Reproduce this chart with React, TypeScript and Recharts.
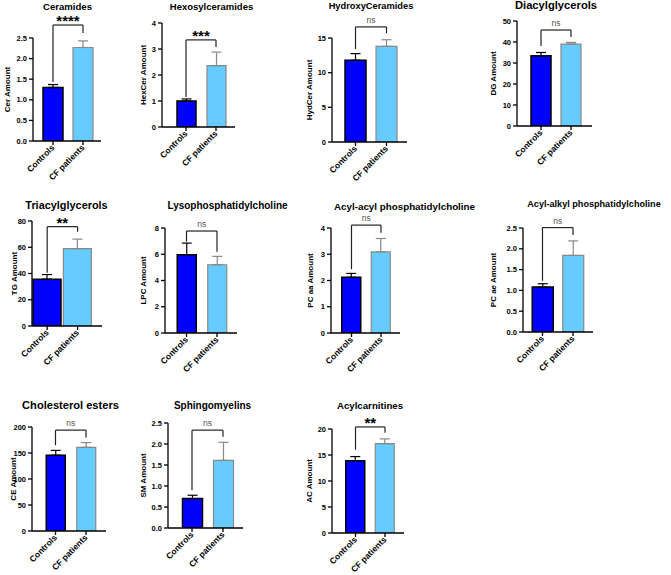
import React from "react";
import { BarChart, Bar, XAxis, YAxis, ErrorBar, ReferenceLine } from "recharts";

const FONT = '"Liberation Sans", Arial, Helvetica, sans-serif';

// ── data ──────────────────────────────────────────────────────────────────────
const groups = ["Controls", "CF patients"];
const titles = [
  "Ceramides",
  "Hexosylceramides",
  "HydroxyCeramides",
  "Diacylglycerols",
  "Triacylglycerols",
  "Lysophosphatidylcholine",
  "Acyl-acyl phosphatidylcholine",
  "Acyl-alkyl phosphatidylcholine",
  "Cholesterol esters",
  "Sphingomyelins",
  "Acylcarnitines",
];
const yLabels = [
  "Cer Amount",
  "HexCer Amount",
  "HydCer Amount",
  "DG Amount",
  "TG Amount",
  "LPC Amount",
  "PC aa Amount",
  "PC ae Amount",
  "CE Amount",
  "SM Amount",
  "AC Amount",
];
const controlMeans = [1.3, 1.0, 11.8, 33.4, 35.7, 5.97, 2.12, 1.08, 145.7, 0.7, 13.9];
const controlErr = [0.07, 0.08, 0.95, 1.6, 3.5, 0.88, 0.15, 0.08, 9.3, 0.08, 0.8];
const cfMeans = [2.27, 2.36, 13.8, 39.0, 58.9, 5.2, 3.09, 1.84, 161, 1.61, 17.2];
const cfErr = [0.16, 0.52, 0.95, 0.8, 7.3, 0.64, 0.51, 0.35, 9, 0.43, 0.9];
const yTicks = [
  [0, 0.5, 1, 1.5, 2, 2.5],
  [0, 1, 2, 3, 4],
  [0, 5, 10, 15],
  [0, 10, 20, 30, 40, 50],
  [0, 20, 40, 60, 80],
  [0, 2, 4, 6, 8],
  [0, 1, 2, 3, 4],
  [0, 0.5, 1, 1.5, 2, 2.5],
  [0, 50, 100, 150, 200],
  [0, 0.5, 1, 1.5, 2, 2.5],
  [0, 5, 10, 15, 20],
];
const tickDecimals = [1, 0, 0, 0, 0, 0, 0, 1, 0, 1, 0];
const sigLabels = ["****", "***", "ns", "ns", "**", "ns", "ns", "ns", "ns", "ns", "**"];
// bracket heights in data units: top bar, foot over controls, foot over CF
const bracketTop = [2.815, 3.35, 16.6, 45.7, 75.7, 7.77, 4.11, 2.51, 194, 2.33, 20.4];
const bracketCtrl = [1.43, 1.15, 13.4, 38.1, 40.6, 6.96, 2.43, 1.23, 165, 0.9, 16.0];
const bracketCf = [2.62, 3.08, 15.7, 42.4, 71.8, 6.19, 3.82, 2.33, 180, 2.17, 19.3];

// ── layout (page pixels) ──────────────────────────────────────────────────────
const layout = [
  { axisX: 33, axisEnd: 101, yTop: 38, yZero: 141, c1: 53, c2: 83, barSize: 20, titleX: 67.5, titleY: 6.5, titleSize: 9.6, labelX: 7 },
  { axisX: 162, axisEnd: 235, yTop: 23, yZero: 127, c1: 186, c2: 216, barSize: 19, titleX: 211.5, titleY: 6.5, titleSize: 9.5, labelX: 143 },
  { axisX: 332, axisEnd: 407, yTop: 38, yZero: 142, c1: 355.5, c2: 386.5, barSize: 21, titleX: 371, titleY: 6.5, titleSize: 9.3, labelX: 309 },
  { axisX: 517, axisEnd: 592, yTop: 21, yZero: 126, c1: 541, c2: 571, barSize: 20, titleX: 556, titleY: 6, titleSize: 11.2, labelX: 493 },
  { axisX: 32, axisEnd: 102, yTop: 221, yZero: 326, c1: 47, c2: 77.5, barSize: 28, titleX: 66.5, titleY: 205, titleSize: 10.9, labelX: 14 },
  { axisX: 165, axisEnd: 237, yTop: 228, yZero: 333, c1: 186.5, c2: 217, barSize: 19, titleX: 227.5, titleY: 206, titleSize: 10, labelX: 143 },
  { axisX: 331, axisEnd: 400, yTop: 228, yZero: 333, c1: 351.5, c2: 381, barSize: 19, titleX: 404.5, titleY: 207, titleSize: 9.8, labelX: 310 },
  { axisX: 523, axisEnd: 593, yTop: 228, yZero: 332, c1: 542.5, c2: 573, barSize: 21, titleX: 594, titleY: 205, titleSize: 9.1, labelX: 493 },
  { axisX: 32, axisEnd: 106, yTop: 427, yZero: 531, c1: 55.5, c2: 86, barSize: 19, titleX: 70.5, titleY: 406, titleSize: 11.1, labelX: 13 },
  { axisX: 168, axisEnd: 243, yTop: 423, yZero: 528, c1: 192, c2: 223, barSize: 20, titleX: 212.5, titleY: 406, titleSize: 10, labelX: 143 },
  { axisX: 332, axisEnd: 404, yTop: 429, yZero: 533, c1: 355.5, c2: 385, barSize: 19, titleX: 370, titleY: 406, titleSize: 9.7, labelX: 309 },
];

const TOPM = 42; // room above the plot for brackets
const XH = 52; // x axis band (rotated labels)
const CTRL_FILL = "#0000ff";
const CF_FILL = "#66ccff";

function XTick(props: any) {
  const { x, y, payload } = props;
  return (
    <g transform={`translate(${x},${y})`}>
      <text
        textAnchor="end"
        transform="rotate(-45)"
        dy="0.35em"
        fontSize={8.5}
        fontWeight="bold"
        fill="#000"
        stroke="none"
      >
        {payload.value}
      </text>
    </g>
  );
}

function YTick(props: any) {
  const { x, y, payload, decimals } = props;
  return (
    <text
      x={x}
      y={y}
      dy="0.35em"
      textAnchor="end"
      fontSize={7.5}
      fontWeight="bold"
      fill="#000"
      stroke="none"
    >
      {Number(payload.value).toFixed(decimals)}
    </text>
  );
}

function Panel({ i }: { i: number }) {
  const L = layout[i];
  const left = L.labelX - 8;
  const top = L.yTop - TOPM;
  const band = L.c2 - L.c1;
  const padL = Math.max(0, L.c1 - band / 2 - L.axisX);
  const padR = Math.max(0, L.axisEnd - (L.c2 + band / 2));
  const width = L.axisEnd - left + 2;
  const height = TOPM + (L.yZero - L.yTop) + XH;
  const ticks = yTicks[i];
  const yMax = ticks[ticks.length - 1];
  const isNs = sigLabels[i] === "ns";

  const data = [
    { name: groups[0], ctrl: controlMeans[i], ctrlErr: [0, controlErr[i]] },
    { name: groups[1], cf: cfMeans[i], cfErr: [0, cfErr[i]] },
  ];
  const line = { stroke: "#222", strokeWidth: 1.2, ifOverflow: "visible" as const };

  return (
    <div style={{ position: "absolute", left, top }}>
      <BarChart
        width={width}
        height={height}
        data={data}
        margin={{ top: TOPM, right: 2, bottom: 0, left: 0 }}
      >
        <XAxis
          dataKey="name"
          height={XH}
          padding={{ left: padL, right: padR }}
          axisLine={{ stroke: "#000", strokeWidth: 1.3 }}
          tickLine={{ stroke: "#000", strokeWidth: 1.3 }}
          tickSize={4}
          tickMargin={1}
          interval={0}
          tick={<XTick />}
        />
        <YAxis
          width={L.axisX - left}
          domain={[0, yMax]}
          ticks={ticks}
          allowDataOverflow
          interval={0}
          axisLine={{ stroke: "#000", strokeWidth: 1.3 }}
          tickLine={{ stroke: "#000", strokeWidth: 1.3 }}
          tickSize={4}
          tickMargin={2}
          tick={<YTick decimals={tickDecimals[i]} />}
          label={{
            value: yLabels[i],
            angle: -90,
            position: "insideLeft",
            offset: 8,
            fontSize: 8,
            fontWeight: "bold",
            fill: "#000",
            style: { textAnchor: "middle" },
          }}
        />
        <Bar
          dataKey="ctrl"
          stackId="s"
          barSize={L.barSize}
          fill={CTRL_FILL}
          stroke="#000"
          strokeWidth={1.5}
          isAnimationActive={false}
        >
          <ErrorBar dataKey="ctrlErr" direction="y" width={5} stroke="#000" strokeWidth={1.2} />
        </Bar>
        <Bar
          dataKey="cf"
          stackId="s"
          barSize={L.barSize}
          fill={CF_FILL}
          stroke="#888"
          strokeWidth={1.2}
          isAnimationActive={false}
        >
          <ErrorBar dataKey="cfErr" direction="y" width={5} stroke="#888" strokeWidth={1.2} />
        </Bar>
        <ReferenceLine
          {...line}
          segment={[
            { x: groups[0], y: bracketCtrl[i] },
            { x: groups[0], y: bracketTop[i] },
          ]}
        />
        <ReferenceLine
          {...line}
          segment={[
            { x: groups[0], y: bracketTop[i] },
            { x: groups[1], y: bracketTop[i] },
          ]}
          label={{
            value: sigLabels[i],
            position: "top",
            offset: isNs ? 4 : -1,
            fontSize: isNs ? 8.5 : 15,
            fontWeight: isNs ? "normal" : "bold",
            fill: isNs ? "#555" : "#000",
          }}
        />
        <ReferenceLine
          {...line}
          segment={[
            { x: groups[1], y: bracketTop[i] },
            { x: groups[1], y: bracketCf[i] },
          ]}
        />
      </BarChart>
      <div
        style={{
          position: "absolute",
          left: L.titleX - left,
          top: L.titleY - top,
          transform: "translate(-50%, -50%)",
          fontSize: L.titleSize,
          fontWeight: "bold",
          whiteSpace: "nowrap",
          lineHeight: 1,
          color: "#000",
        }}
      >
        {titles[i]}
      </div>
    </div>
  );
}

export default function App() {
  return (
    <div
      style={{
        position: "absolute",
        left: 0,
        top: 0,
        width: 671,
        height: 575,
        background: "#fff",
        overflow: "hidden",
        fontFamily: FONT,
      }}
    >
      {titles.map((_, i) => (
        <Panel key={i} i={i} />
      ))}
    </div>
  );
}
